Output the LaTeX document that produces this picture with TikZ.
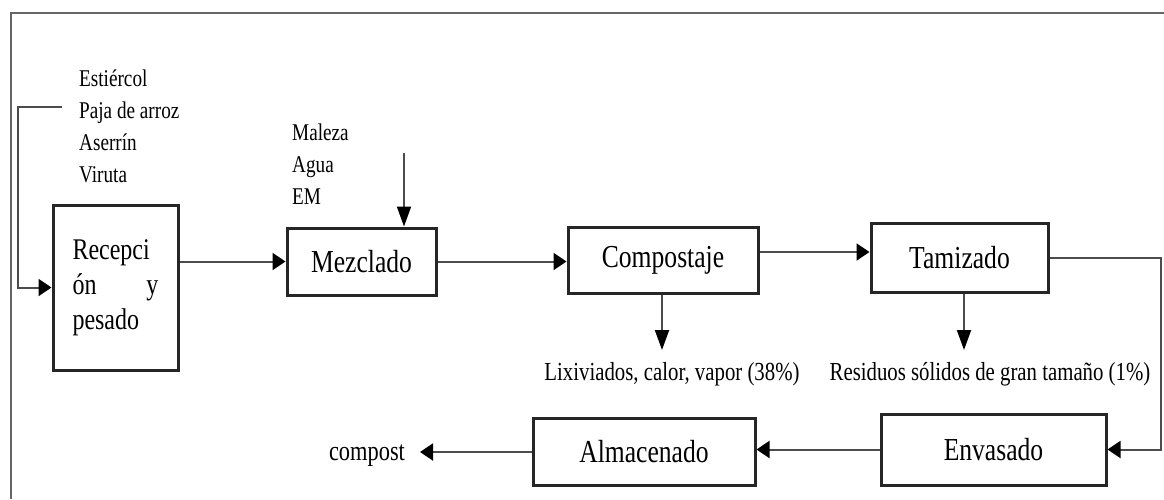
\documentclass[tikz,border=0pt]{standalone}
\usepackage{fontspec}
\setmainfont[FakeStretch=0.8]{Liberation Serif}
\usetikzlibrary{arrows.meta}
\begin{document}
\begin{tikzpicture}[x=1pt,y=-1pt,
  procbox/.style={draw=black!85, line width=3pt, fill=white, inner sep=0pt, align=center, font=\fontsize{32}{36}\selectfont},
  lbl/.style={inner sep=0pt, font=\fontsize{26}{30}\selectfont},
  lst/.style={inner sep=0pt, align=left, anchor=north west, font=\fontsize{24}{32}\selectfont},
  conn/.style={draw=black!70, line width=2pt},
  harr/.style={conn, -{Triangle[length=13pt,width=17pt,color=black]}},
  varr/.style={conn, -{Triangle[length=20pt,width=14pt,color=black]}},
]
\useasboundingbox (0,0) rectangle (1164,499);
\fill[white] (0,0) rectangle (1164,499);
\draw[black!60, line width=1.5pt] (11,499) -- (11,13) -- (1164,13);

\node[procbox, minimum width=125pt, minimum height=165pt, text width=86pt, align=left, font=\fontsize{30}{35}\selectfont] (rec) at (115.5,287.5) {Recepci\\ón\hfill y\\pesado};
\node[procbox, minimum width=149pt, minimum height=67pt] (mez) at (361.5,261.5) {Mezclado};
\node[procbox, minimum width=190pt, minimum height=66pt] (comp) at (663,260) {Compostaje};
\node[procbox, minimum width=177pt, minimum height=69pt] (tam) at (959.5,257.5) {Tamizado};
\node[procbox, minimum width=225pt, minimum height=71pt] (env) at (993.5,449.5) {Envasado};
\node[procbox, minimum width=222pt, minimum height=67pt] (alm) at (644,451.5) {Almacenado};

\node[lst] (ins) at (79,70) {Estiércol\\Paja de arroz\\Aserrín\\Viruta};
\node[lst] (adds) at (292,124) {Maleza\\Agua\\EM};
\node[lbl, anchor=base] (lix) at (672,380) {Lixiviados, calor, vapor (38\%)};
\node[lbl, anchor=base] (res) at (990,380) {Residuos sólidos de gran tamaño (1\%)};
\node[lbl, anchor=base, font=\fontsize{28}{32}\selectfont] (cmp) at (367,460) {compost};

\coordinate (inA) at (62,107);
\draw[harr] (inA) -- ++(-44,0) |- (rec.west);
\draw[harr] (rec.east |- mez.west) -- (mez.west);
\coordinate (addA) at (404,153);
\draw[varr] (addA) -- (addA |- mez.north);
\draw[harr] (mez.east) -- (mez.east -| comp.west);
\draw[harr] ([yshift=8pt]comp.east) -- ([yshift=8pt]comp.east -| tam.west);
\coordinate (rc) at (1161,350);
\draw[harr] (tam.east) -| (rc) |- (env.east);
\coordinate (lixT) at (662,350);
\draw[varr] (lixT |- comp.south) -- (lixT);
\coordinate (resT) at (964,350);
\draw[varr] (resT |- tam.south) -- (resT);
\draw[harr] (env.west) -- (env.west -| alm.east);
\coordinate (cmpT) at (420,452);
\draw[harr] (alm.west |- cmpT) -- (cmpT);
\end{tikzpicture}
\end{document}
